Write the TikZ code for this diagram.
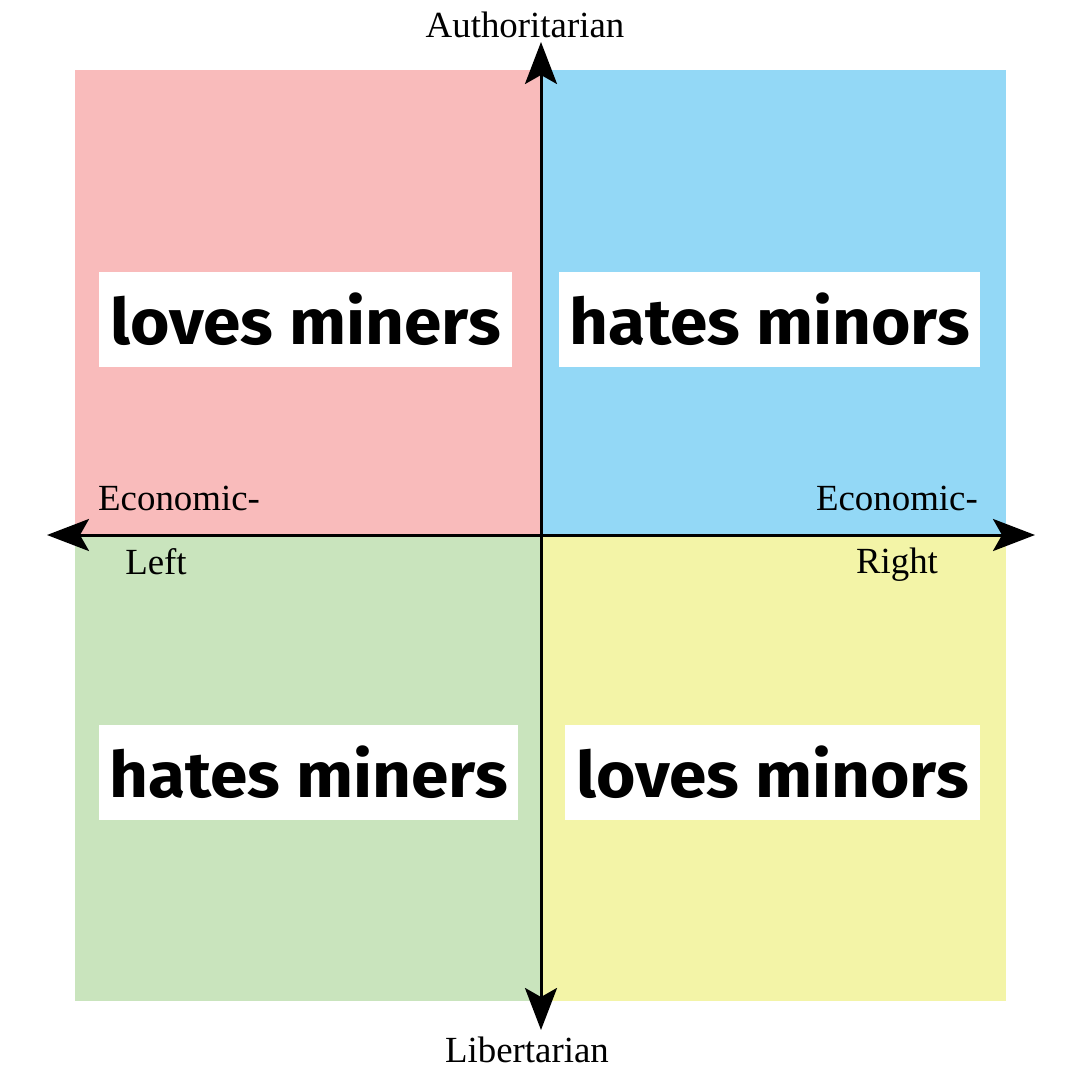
\documentclass[tikz,border=0pt]{standalone}
\usepackage{fontspec}
\setmainfont{Liberation Serif}
\newfontfamily\boxfont[FakeStretch=1.06]{Fira Sans}
\usetikzlibrary{arrows.meta}
\definecolor{qpink}{RGB}{249,187,187}
\definecolor{qblue}{RGB}{147,216,246}
\definecolor{qgreen}{RGB}{201,228,189}
\definecolor{qyellow}{RGB}{243,244,167}
\begin{document}
\begin{tikzpicture}[x=1bp,y=-1bp,
  axislabel/.style={font=\fontsize{37}{40}\selectfont, inner sep=0pt},
  slogan/.style={fill=white, inner sep=0pt, minimum height=95bp, font=\boxfont\bfseries\fontsize{64}{70}\selectfont},
  axis/.style={line width=3bp, {Stealth[length=42bp,width=32bp,inset=9bp]}-{Stealth[length=42bp,width=32bp,inset=9bp]}}
]
\useasboundingbox (0,0) rectangle (1080,1080);
\fill[white] (0,0) rectangle (1080,1080);
\fill[qpink] (75,70) rectangle (541,535);
\fill[qblue] (541,70) rectangle (1006,535);
\fill[qgreen] (75,535) rectangle (541,1001);
\fill[qyellow] (541,535) rectangle (1006,1001);

\node[slogan, minimum width=413bp] (tl) at (305.5,319.5) {loves miners};
\node[slogan, minimum width=421bp] (tr) at (769.5,319.5) {hates minors};
\node[slogan, minimum width=419bp] (bl) at (308.5,772.5) {hates miners};
\node[slogan, minimum width=415bp] (br) at (772.5,772.5) {loves minors};

\coordinate (top) at (541,42);
\coordinate (bottom) at (541,1030);
\coordinate (left) at (47,535);
\coordinate (right) at (1035,535);
\draw[axis] (top) -- (bottom);
\draw[axis] (left) -- (right);

\node[axislabel] (auth) at (525,25) {Authoritarian};
\node[axislabel] (lib) at (527,1050) {Libertarian};
\node[axislabel, anchor=west] (el) at (98,498) {Economic-};
\node[axislabel] (left lbl) at (156,562) {Left};
\node[axislabel, anchor=east] (er) at (978,498) {Economic-};
\node[axislabel] (right lbl) at (897,565) {Right};
\end{tikzpicture}
\end{document}
